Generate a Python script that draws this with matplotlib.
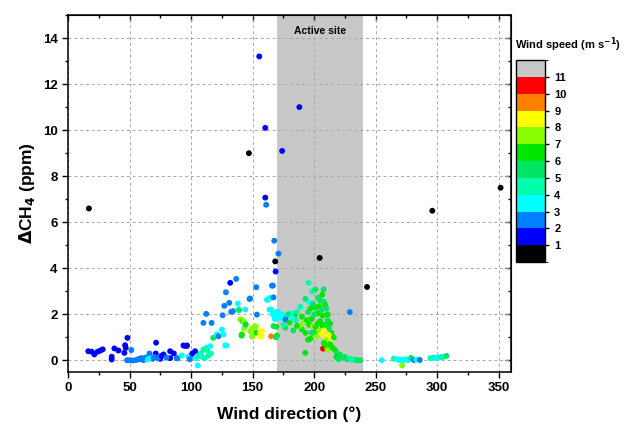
import matplotlib
matplotlib.use("Agg")
import matplotlib.pyplot as plt
from matplotlib.colors import ListedColormap, BoundaryNorm
from matplotlib.ticker import MultipleLocator
import numpy as np

plt.rcParams['font.family'] = ['Liberation Sans', 'DejaVu Sans']
plt.rcParams['font.weight'] = 'bold'

# isolated high readings
out_dir = [17, 147, 155.4, 160.3, 188, 174, 160.3, 161, 167.6, 171, 168.4, 168.7,
           204.5, 243, 296, 351.5, 229, 166.5]
out_ch4 = [6.6, 9.0, 13.2, 10.1, 11.0, 9.1, 7.07, 6.76, 5.2, 4.64, 4.3, 3.86,
           4.45, 3.19, 6.5, 7.5, 2.1, 3.25]
out_ws = [0.5, 0.5, 1.5, 1.5, 1.5, 1.5, 1.5, 2.5, 2.5, 2.5, 0.5, 1.5,
          0.5, 0.5, 0.5, 0.5, 2.5, 2.5]

# low readings, north-east sector
west_dir = [16.5, 19.3, 21.4, 24.1, 26.3, 28.2, 35.5, 35.5, 37.7, 41, 45.8, 46.4,
            46.9, 48.3, 51.5, 48, 50.4, 52.7, 55.4, 58.6, 61.3, 63.5, 66.2, 68.9,
            71.6, 71.3, 74.9, 77.6, 83, 83, 89, 57, 60, 63, 65, 70, 73, 76, 80, 86,
            88.4, 92.5, 93.8, 96.6, 95, 96.5, 99.3, 98, 99, 101]
west_ch4 = [0.40, 0.38, 0.26, 0.38, 0.43, 0.48, 0.16, 0.04, 0.52, 0.43, 0.33, 0.66,
            0.55, 0.98, 0.45, 0.01, 0.01, 0.0, 0.02, 0.07, 0.01, 0.07, 0.3, 0.07,
            0.77, 0.3, 0.07, 0.26, 0.40, 0.1, 0.1, 0.05, 0.1, 0.12, 0.05, 0.15, 0.1,
            0.2, 0.12, 0.3, 0.09, 0.22, 0.65, 0.65, 0.63, 0.63, 0.19, 0.15, 0.05, 0.3]
west_ws = [1.5, 1.5, 1.5, 1.5, 1.5, 1.5, 1.5, 1.5, 1.5, 1.5, 1.5, 1.5,
           1.5, 1.5, 2.5, 2.5, 2.5, 2.5, 2.5, 1.5, 2.5, 3.5, 2.5, 2.5,
           1.5, 1.5, 1.5, 1.5, 1.5, 1.5, 2.5, 2.5, 2.5, 2.5, 3.5, 2.5, 2.5,
           1.5, 2.5, 1.5, 2.5, 3.5, 1.5, 1.5, 1.5, 1.5, 2.5, 3.5, 2.5, 1.5]

# rising readings, 100-170 deg
rise_dir = [103.3, 105.5, 104, 106, 107.4, 108, 109, 110, 111, 112.8, 113, 114,
            115.5, 116, 118, 110, 112.3, 116.7, 121, 122.3, 125, 125.6, 126.4, 127,
            127.7, 128.3, 128.8, 131.8, 131, 132.6, 134, 136.7, 138, 138.6, 139, 140,
            140.8, 142, 142.7, 143, 144, 144.5, 141, 141.3, 144, 147.5, 148, 148,
            149.5, 149.7, 150, 152, 152.7, 153, 153, 153.5, 155.7, 156, 157.3, 157.6,
            161.7, 162.5, 163.8, 164, 165, 165, 165.7, 166.5, 167, 167, 168, 169,
            169.8, 169.2, 169.8, 167, 169]
rise_ch4 = [0.40, -0.22, 0.1, 0.2, 0.26, 0.3, 0.15, 0.48, 0.1, 0.55, 0.45, 0.2,
            0.62, 0.3, 0.98, 1.63, 2.02, 1.63, 1.13, 1.05, 1.34, 1.96, 1.13, 2.37,
            0.65, 2.96, 0.65, 3.37, 2.50, 2.11, 2.14, 3.54, 2.47, 2.21, 2.18, 1.78,
            1.78, 1.70, 1.70, 1.39, 1.56, 1.56, 1.08, 1.13, 2.21, 2.67, 2.69, 1.27,
            1.05, 1.03, 1.40, 1.49, 1.47, 3.18, 1.2, 1.99, 1.05, 1.23, 1.05, 1.27,
            2.64, 2.64, 2.21, 2.71, 1.05, 2.21, 3.25, 2.0, 2.07, 2.74, 1.8, 2.1,
            1.85, 1.46, 1.08, 1.49, 1.0]
rise_ws = [1.5, 3.5, 3.5, 4.5, 4.5, 4.5, 3.5, 4.5, 4.5, 4.5, 4.5, 4.5,
           3.5, 4.5, 5.5, 2.5, 2.5, 2.5, 3.5, 2.5, 3.5, 2.5, 3.5, 2.5,
           3.5, 2.5, 3.5, 1.5, 2.5, 2.5, 2.5, 2.5, 3.5, 3.5, 5.5, 7.5,
           7.5, 6.5, 7.5, 7.5, 3.5, 6.5, 6.5, 6.5, 3.5, 2.5, 2.5, 7.5,
           7.5, 7.5, 7.5, 7.5, 7.5, 2.5, 6.5, 2.5, 8.5, 8.5, 8.5, 8.5,
           3.5, 3.5, 3.5, 3.5, 9.5, 3.5, 2.5, 3.5, 3.5, 2.5, 3.5, 3.5,
           3.5, 6.5, 6.5, 5.5, 5.5]

# readings from the active site sector
site_dir = [195.5, 198.3, 201, 207.7, 193, 196, 203, 205, 206.5, 208, 209, 204,
            206, 210, 211, 207, 203, 200, 198, 188.8, 186, 184, 181, 178,
            176.6, 174, 172, 171, 190, 192, 194, 196, 199, 201, 203, 205,
            207, 209, 211, 213, 212, 214, 200, 202, 204, 206, 208, 209,
            210, 212, 214, 216, 207.2, 208, 210, 213, 211, 215, 217, 219,
            221, 223, 225, 227, 229, 231, 233, 235, 237.6, 218, 220, 192.8,
            195, 197, 198, 193, 190, 188, 186, 183, 185, 176.6, 180, 175,
            179, 182, 195, 197, 199, 201]
site_ch4 = [3.37, 3.0, 3.08, 3.08, 2.67, 2.53, 2.72, 2.6, 2.85, 2.55, 2.4, 2.35,
            2.2, 2.25, 2.0, 1.95, 2.05, 2.0, 1.8, 2.33, 2.1, 1.95, 2.05, 1.95,
            1.78, 2.0, 1.85, 2.1, 1.9, 1.65, 1.75, 1.55, 1.5, 1.45, 1.6, 1.7,
            1.5, 1.55, 1.75, 1.6, 1.4, 1.2, 1.2, 1.05, 1.3, 1.15, 1.3, 1.0,
            0.9, 1.1, 0.95, 1.0, 0.51, 0.75, 0.6, 0.7, 0.45, 0.55, 0.45, 0.3,
            0.25, 0.12, 0.15, 0.05, 0.08, 0.02, 0.05, 0.0, 0.01, 0.15, 0.05, 0.33,
            0.9, 0.95, 1.2, 1.2, 1.35, 1.5, 1.5, 1.3, 1.75, 1.42, 1.65, 1.55,
            2.0, 1.85, 2.1, 2.25, 2.45, 2.3]
site_ws = [4.5, 4.5, 5.5, 5.5, 5.5, 3.5, 5.5, 5.5, 6.5, 5.5, 6.5, 6.5,
           5.5, 5.5, 6.5, 6.5, 6.5, 5.5, 6.5, 4.5, 4.5, 6.5, 3.5, 3.5,
           2.5, 3.5, 3.5, 3.5, 6.5, 7.5, 6.5, 6.5, 7.5, 6.5, 6.5, 6.5,
           6.5, 6.5, 5.5, 6.5, 5.5, 6.5, 6.5, 7.5, 7.5, 8.5, 8.5, 8.5,
           7.5, 8.5, 8.5, 6.5, 10.5, 6.5, 6.5, 6.5, 7.5, 6.5, 6.5, 5.5,
           5.5, 5.5, 5.5, 5.5, 4.5, 4.5, 4.5, 5.5, 5.5, 6.5, 5.5, 6.5,
           6.5, 6.5, 5.5, 6.5, 6.5, 7.5, 6.5, 5.5, 4.5, 5.5, 6.5, 4.5,
           5.5, 3.5, 5.5, 6.5, 5.5, 6.5]

# low readings, west sector
east_dir = [255, 264.7, 268, 269, 270.5, 272, 273.5, 275, 276.5, 278.8, 281, 283,
            285.8, 271.5, 294.5, 297, 299, 300.5, 302, 303.5, 305, 307.5]
east_ch4 = [0.01, 0.07, 0.05, 0.02, 0.04, 0.0, 0.03, 0.05, 0.02, 0.11, 0.02, 0.04,
            0.02, -0.22, 0.1, 0.12, 0.1, 0.12, 0.13, 0.15, 0.15, 0.2]
east_ws = [3.5, 4.5, 3.5, 3.5, 3.5, 3.5, 3.5, 3.5, 3.5, 5.5, 2.5, 3.5,
           2.5, 7.5, 4.5, 4.5, 3.5, 3.5, 3.5, 4.5, 4.5, 5.5]

speed_colors = ['#000000', '#0000FF', '#0080FF', '#00FFFF', '#00FFAA', '#00E664',
                '#00E600', '#88FF00', '#FFFF00', '#FF8000', '#FF0000', '#C8C8C8']
speed_bounds = list(range(0, 13))
active_site = (170, 240)

wd = np.array(out_dir + west_dir + rise_dir + site_dir + east_dir)
ch4 = np.array(out_ch4 + west_ch4 + rise_ch4 + site_ch4 + east_ch4)
ws = np.array(out_ws + west_ws + rise_ws + site_ws + east_ws)

cmap = ListedColormap(speed_colors)
norm = BoundaryNorm(speed_bounds, cmap.N)

fig = plt.figure(figsize=(6.32, 4.29), dpi=100)
ax = fig.add_axes([0.1076, 0.133, 0.701, 0.832])

ax.axvspan(*active_site, color='#C8C8C8', lw=0, zorder=0)
ax.text(sum(active_site) / 2, 14.3, 'Active site', ha='center', va='center',
        fontsize=7.5, fontweight='bold')

sc = ax.scatter(wd, ch4, c=ws, cmap=cmap, norm=norm, s=18, linewidths=0, zorder=3)

ax.set_xlim(0, 360)
ax.set_ylim(-0.5, 15)
ax.xaxis.set_major_locator(MultipleLocator(50))
ax.xaxis.set_minor_locator(MultipleLocator(25))
ax.yaxis.set_major_locator(MultipleLocator(2))
ax.yaxis.set_minor_locator(MultipleLocator(1))
ax.set_axisbelow(True)
ax.grid(True, which='major', ls=(0, (3, 3)), color='#A8A8A8', lw=0.7)

ax.tick_params(which='both', direction='out', top=False, right=False,
               labelsize=9.5, width=1.0)
ax.tick_params(which='major', length=4)
ax.tick_params(which='minor', length=2.5)
for s in ax.spines.values():
    s.set_linewidth(1.1)

# mirrored inward ticks on top and right
ax_top = ax.secondary_xaxis('top')
ax_top.xaxis.set_major_locator(MultipleLocator(50))
ax_top.xaxis.set_minor_locator(MultipleLocator(25))
ax_top.tick_params(which='both', direction='in', labeltop=False, width=1.0)
ax_top.tick_params(which='major', length=4)
ax_top.tick_params(which='minor', length=2.5)
ax_right = ax.secondary_yaxis('right')
ax_right.yaxis.set_major_locator(MultipleLocator(2))
ax_right.yaxis.set_minor_locator(MultipleLocator(1))
ax_right.tick_params(which='both', direction='in', labelright=False, width=1.0)
ax_right.tick_params(which='major', length=4)
ax_right.tick_params(which='minor', length=2.5)

for lab in ax.get_xticklabels() + ax.get_yticklabels():
    lab.set_fontweight('bold')

ax.set_xlabel('Wind direction (°)', fontsize=12.5, fontweight='bold', labelpad=9)
ax.set_ylabel(r'$\Delta$CH$_4$ (ppm)', fontsize=12.5, fontweight='bold', labelpad=4)

cax = fig.add_axes([0.8165, 0.389, 0.046, 0.471])
cb = fig.colorbar(sc, cax=cax, boundaries=speed_bounds, ticks=range(1, 12))
cb.outline.set_linewidth(1.0)
cax.tick_params(length=3, width=1.0, labelsize=8)
for lab in cax.get_yticklabels():
    lab.set_fontweight('bold')
fig.text(0.815, 0.875, r'Wind speed (m s$^{\mathbf{-1}}$)', fontsize=8, fontweight='bold',
         ha='left', va='bottom')

fig.savefig('out.png', dpi=100)
